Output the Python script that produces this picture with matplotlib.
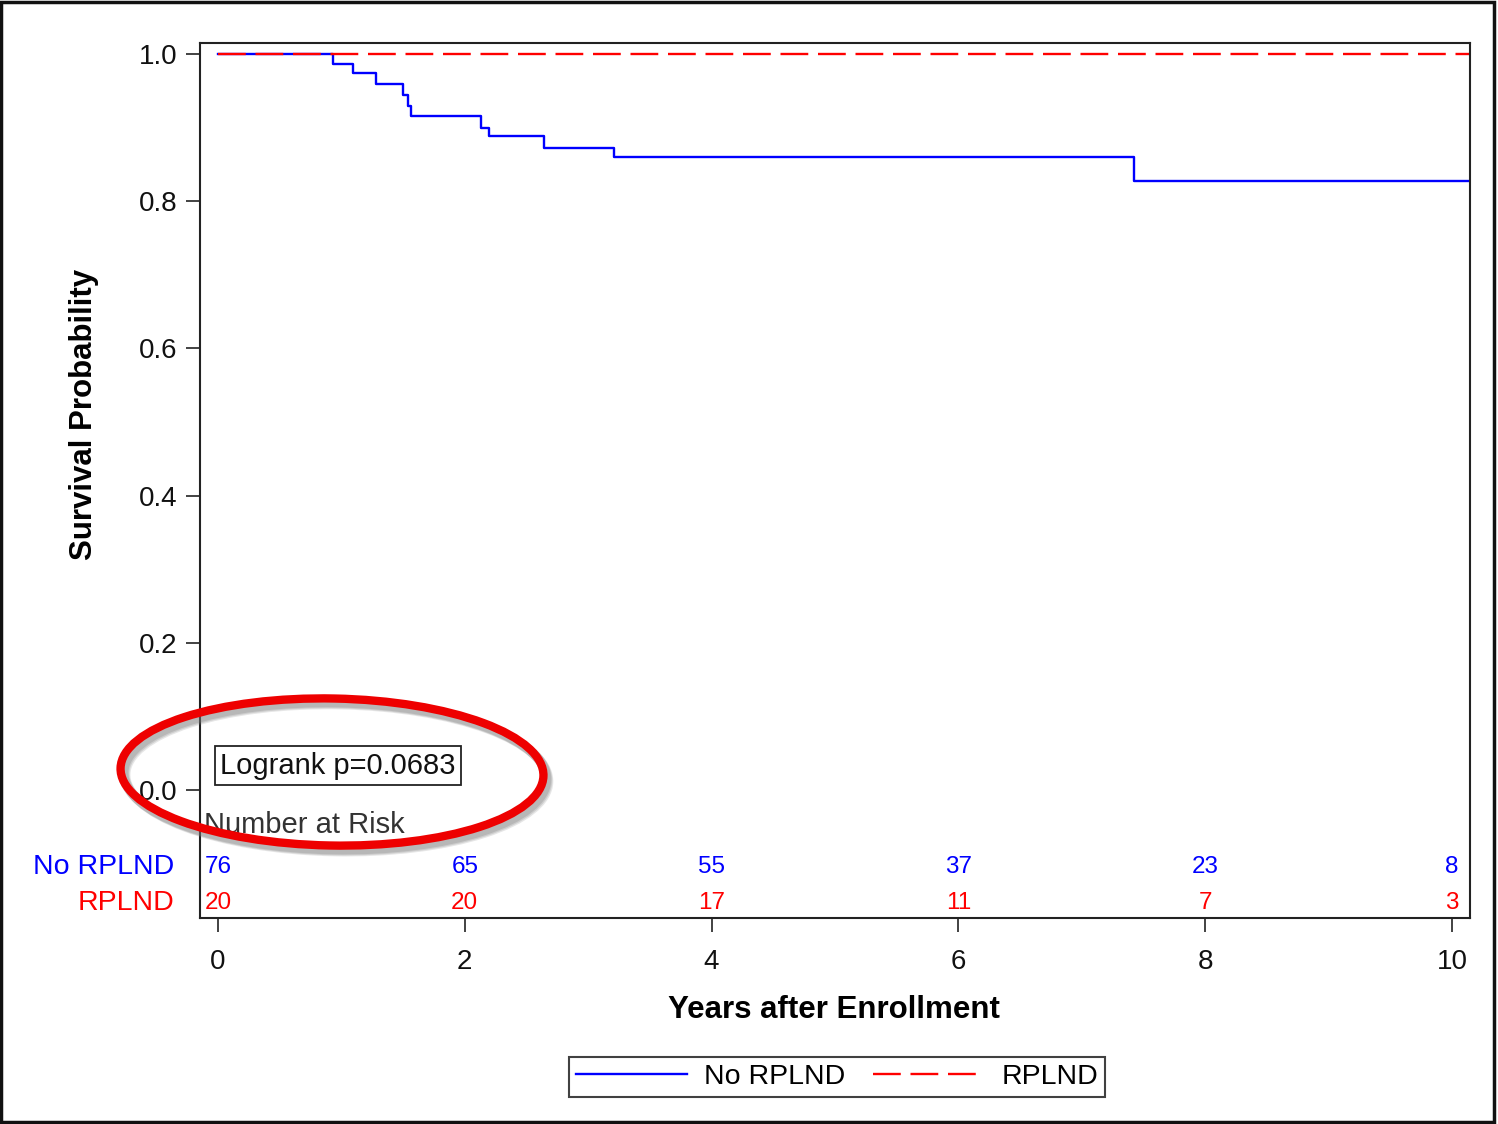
import matplotlib
matplotlib.use("Agg")
import matplotlib.pyplot as plt
from matplotlib.patches import Ellipse, Rectangle

plt.rcParams["font.family"] = ["Liberation Sans", "DejaVu Sans"]
plt.rcParams["lines.scale_dashes"] = False

# ---------------------------------------------------------------------------
# Data
# ---------------------------------------------------------------------------
group_names = ["No RPLND", "RPLND"]
group_colors = ["#0000FF", "#FF0000"]

# Kaplan-Meier step curves (time in years, survival probability)
time_no = [0, 0.93, 1.09, 1.28, 1.50, 1.54, 1.56, 2.13, 2.20, 2.64, 3.21, 7.42, 10.15]
surv_no = [1.0, 0.987, 0.974, 0.959, 0.945, 0.930, 0.916, 0.900, 0.888, 0.872, 0.860, 0.827, 0.827]
time_rp = [0, 10.15]
surv_rp = [1.0, 1.0]

# Number at risk table
risk_times = [0, 2, 4, 6, 8, 10]
risk_no = [76, 65, 55, 37, 23, 8]
risk_rp = [20, 20, 17, 11, 7, 3]

x_ticks = [0, 2, 4, 6, 8, 10]
y_ticks = [0.0, 0.2, 0.4, 0.6, 0.8, 1.0]
pvalue_text = "Logrank p=0.0683"

# ---------------------------------------------------------------------------
# Figure
# ---------------------------------------------------------------------------
W, H = 1498, 1124
fig = plt.figure(figsize=(W / 100, H / 100), dpi=100)
fig.patch.set_facecolor("white")


def fx(px):
    return px / W


def fy(py):
    return 1 - py / H


ax = fig.add_axes([fx(200), fy(918), fx(1470) - fx(200), fy(43) - fy(918)])
ax.set_xlim(-0.146, 10.146)
ax.set_ylim(-0.174, 1.015)

ax.step(time_no, surv_no, where="post", color=group_colors[0], lw=1.7,
        label=group_names[0])
ax.plot(time_rp, surv_rp, color=group_colors[1], lw=1.7, dashes=(20, 7),
        label=group_names[1])

for sp in ax.spines.values():
    sp.set_linewidth(1.5)
    sp.set_color("#222222")

ax.set_xticks(x_ticks)
ax.set_xticklabels([str(t) for t in x_ticks])
ax.set_yticks(y_ticks)
ax.set_yticklabels([f"{t:.1f}" for t in y_ticks])
ax.tick_params(axis="both", direction="out", length=10, width=1.2,
               labelsize=20, color="#222222", labelcolor="#111111")
ax.tick_params(axis="x", pad=12)
ax.tick_params(axis="y", pad=6)

# p-value box
ax.text(0.02, 0.033, pvalue_text, fontsize=21, ha="left", va="center",
        color="#111111",
        bbox=dict(boxstyle="square,pad=0.18", fc="white", ec="#222222", lw=1.3))
# Number at risk
ax.text(-0.115, -0.048, "Number at Risk", fontsize=21, ha="left",
        va="center", color="#333333")
for t, n1, n2 in zip(risk_times, risk_no, risk_rp):
    ax.text(t, -0.105, str(n1), fontsize=17.5, ha="center", va="center",
            color=group_colors[0])
    ax.text(t, -0.154, str(n2), fontsize=17.5, ha="center", va="center",
            color=group_colors[1])
fig.text(fx(174), fy(867), group_names[0], fontsize=20.5, ha="right",
         va="center", color=group_colors[0])
fig.text(fx(174), fy(903), group_names[1], fontsize=20.5, ha="right",
         va="center", color=group_colors[1])

# axis labels
fig.text(fx(834), fy(1010), "Years after Enrollment", fontsize=22.5,
         fontweight="bold", ha="center", va="center")
fig.text(fx(84), fy(414), "Survival Probability", fontsize=22.5,
         fontweight="bold", ha="center", va="center", rotation=90)

# legend
leg = fig.legend(loc="center", bbox_to_anchor=(fx(837), fy(1077)), ncol=2,
                 fontsize=20.5, frameon=True, fancybox=False,
                 handlelength=3.9, columnspacing=1.0, handletextpad=0.6,
                 borderpad=0.25)
leg.get_frame().set_edgecolor("#111111")
leg.get_frame().set_linewidth(1.5)

# red annotation ellipse with a soft grey shadow
for dx, dy, a in [(5, 6, 0.18), (4, 5, 0.22), (3, 4, 0.25)]:
    shadow = Ellipse((fx(332 + dx), fy(772 + dy)), width=fx(423), height=147 / H,
                     angle=-1.5, transform=fig.transFigure, fill=False,
                     ec="#777777", lw=7, alpha=a)
    fig.add_artist(shadow)
ell = Ellipse((fx(332), fy(772)), width=fx(423), height=147 / H,
              angle=-1.5, transform=fig.transFigure, fill=False,
              ec="#EE0000", lw=6)
fig.add_artist(ell)

# outer frame of the picture
frame = Rectangle((0.001, 0.002), 0.996, 0.996, transform=fig.transFigure,
                  fill=False, ec="#111111", lw=2.5)
fig.add_artist(frame)

fig.savefig("out.png", dpi=100)
